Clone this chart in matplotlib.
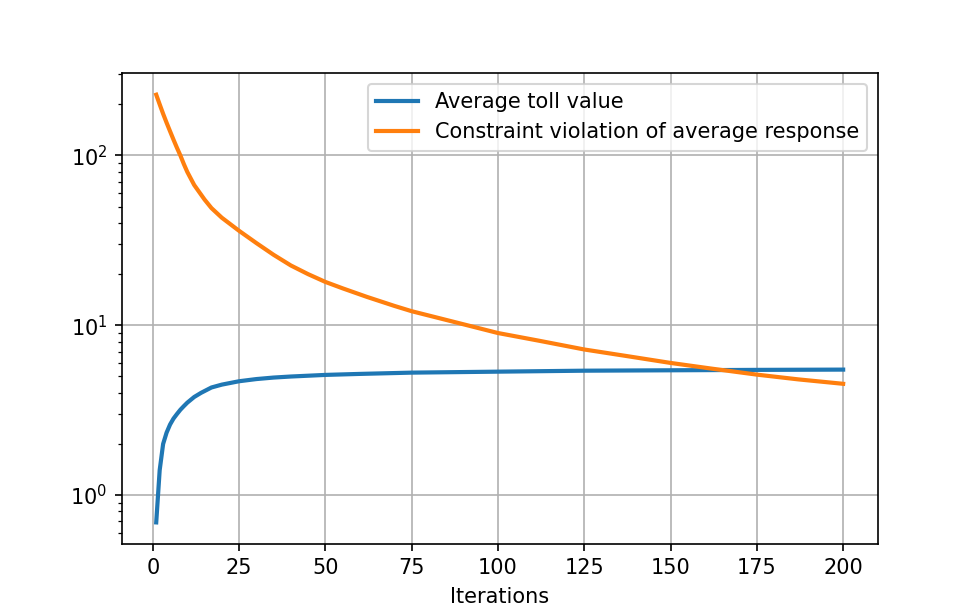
import numpy as np
import matplotlib.pyplot as plt

# values
iters_toll = [1, 2, 3, 4, 5, 6, 7, 8, 9, 10, 12, 14, 17, 20, 25, 30, 35, 40, 50, 60,
              75, 100, 125, 150, 175, 200]
toll = [0.69, 1.4, 2.0, 2.33, 2.6, 2.82, 3.0, 3.18, 3.34, 3.5, 3.78, 4.0, 4.3, 4.47,
        4.68, 4.82, 4.92, 4.99, 5.1, 5.17, 5.26, 5.33, 5.4, 5.43, 5.46, 5.48]

iters_viol = [1, 2, 3, 4, 5, 6, 7, 8, 9, 10, 12, 15, 17, 20, 25, 30, 35, 40, 45, 50,
              55, 62, 70, 75, 87, 100, 112, 125, 137, 150, 162, 175, 187, 200]
viol = [228, 200, 176, 156, 139, 124, 111, 100, 89, 80, 67, 55, 49, 43, 36, 30.5, 26,
        22.5, 20, 18, 16.5, 14.7, 13, 12.1, 10.5, 9.0, 8.1, 7.2, 6.6, 6.0, 5.55, 5.12,
        4.8, 4.52]

fig, ax = plt.subplots(figsize=(6.5, 611/150))

ax.plot(iters_toll, toll, lw=2, label='Average toll value')
ax.plot(iters_viol, viol, lw=2, label='Constraint violation of average response')
ax.set_yscale('log')
ax.set_xlabel('Iterations')
ax.grid(True)
ax.legend(loc='upper right')

plt.savefig('out.png', dpi=150)
